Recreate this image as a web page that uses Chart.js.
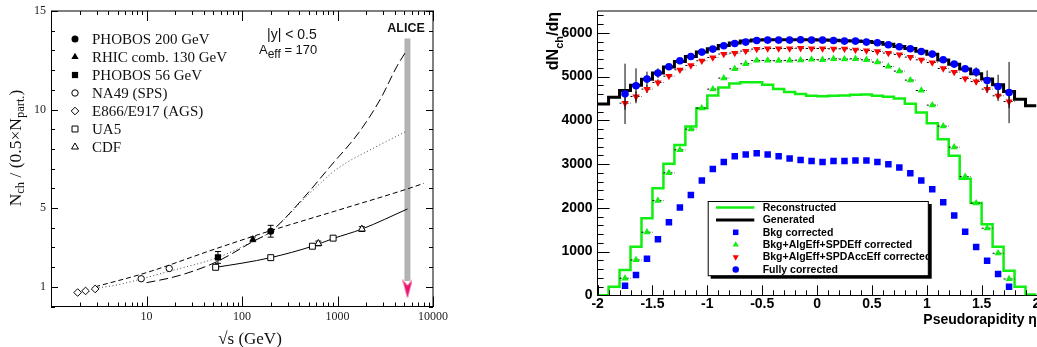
<!DOCTYPE html>
<html>
<head>
<meta charset="utf-8">
<script src="https://cdn.jsdelivr.net/npm/chart.js@4.4.1/dist/chart.umd.min.js"></script>
<style>
html, body { margin: 0; padding: 0; background: #fff; overflow: hidden; }
#wrap { position: relative; width: 1037px; height: 347px; overflow: hidden; }
#left { position: absolute; left: 0; top: 0; }
#right { position: absolute; left: 540px; top: 0; }
</style>
</head>
<body>
<div id="wrap">
  <canvas id="left" width="480" height="347"></canvas>
  <canvas id="right" width="510" height="347"></canvas>
</div>
<script>
// ---- left panel: Nch / (0.5 Npart) vs sqrt(s) ----
const sqrtsPhobos200 = [200];            const nchPhobos200 = [3.82];  const errPhobos200 = [0.3];
const sqrtsRhic130 = [130];              const nchRhic130 = [3.41];    const errRhic130 = [0.12];
const sqrtsPhobos56 = [56];              const nchPhobos56 = [2.49];   const errPhobos56 = [0.3];
const sqrtsNA49 = [8.8, 17.3];           const nchNA49 = [1.41, 1.93];
const sqrtsAGS = [1.9, 2.3, 2.9];        const nchAGS = [0.71, 0.79, 0.89];
const sqrtsUA5 = [53, 200, 546, 900];    const nchUA5 = [1.99, 2.48, 3.06, 3.47];
const sqrtsCDF = [630, 1800];            const nchCDF = [3.2, 3.93];   const errCDF = [0.12, 0.12];

const fitSolidX = [53, 100, 200, 546, 900, 1800, 5400];
const fitSolidY = [1.99, 2.2, 2.48, 3.06, 3.45, 3.93, 4.95];
const fitLongX = [10, 18, 31, 56, 130, 200, 426, 843, 1666, 2807, 4200, 5300];
const fitLongY = [1.21, 1.46, 1.8, 2.3, 3.3, 3.8, 5.43, 7.12, 8.82, 10.52, 12.2, 13.0];
const fitDotX = [2.9, 5, 10, 17, 53, 130, 200, 500, 1000, 2500, 5300];
const fitDotY = [0.93, 1.1, 1.47, 1.78, 2.45, 3.3, 3.8, 5.7, 7.0, 8.09, 8.9];
const fitDashX = [2.9, 10, 53, 200, 1000, 5400, 8000];
const fitDashY = [1.0, 1.72, 2.93, 3.85, 4.88, 5.97, 6.25];

const aliceX = [5400, 5400];  const aliceY = [13.6, 1.3];
const arrowX = [5400];        const arrowY = [0.89];

const leftXLabels = [10, 100, 1000, 10000];
const leftYLabels = [1, 5, 10, 15];

// ---- right panel: dNch/deta vs pseudorapidity ----
const etaCenters = [-1.95, -1.85, -1.75, -1.65, -1.55, -1.45, -1.35, -1.25, -1.15, -1.05,
  -0.95, -0.85, -0.75, -0.65, -0.55, -0.45, -0.35, -0.25, -0.15, -0.05,
  0.05, 0.15, 0.25, 0.35, 0.45, 0.55, 0.65, 0.75, 0.85, 0.95,
  1.05, 1.15, 1.25, 1.35, 1.45, 1.55, 1.65, 1.75, 1.85, 1.95];
const binHalf = 0.05;
const generatedHist = [4375, 4529, 4680, 4803, 4940, 5080, 5217, 5345, 5460, 5560,
  5636, 5712, 5766, 5812, 5835, 5842, 5842, 5842, 5845, 5842,
  5838, 5830, 5820, 5815, 5800, 5780, 5740, 5690, 5640, 5580,
  5510, 5380, 5280, 5175, 5064, 4943, 4812, 4659, 4485, 4332];
const reconstructedHist = [0, 196, 579, 1112, 1762, 2448, 3005, 3439, 3858, 4279,
  4568, 4750, 4845, 4870, 4870, 4812, 4714, 4650, 4600, 4565,
  4550, 4560, 4570, 4585, 4590, 4560, 4540, 4500, 4378, 4179,
  3936, 3570, 3190, 2664, 2108, 1624, 1112, 563, 196, 20];

const etaPoints = etaCenters.slice(2, 38);
const bkgCorrected = [220, 465, 838, 1281, 1670, 2005, 2295, 2623, 2890, 3050,
  3181, 3217, 3249, 3217, 3181, 3126, 3096, 3073, 3050, 3073,
  3073, 3080, 3080, 3050, 2998, 2920, 2792, 2623, 2426, 2128,
  1822, 1455, 1105, 792, 487, 197];
const spdEffCorrected = [389, 808, 1442, 2165, 2799, 3325, 3799, 4279, 4714, 4966,
  5178, 5293, 5369, 5369, 5362, 5369, 5377, 5392, 5384, 5407,
  5400, 5407, 5384, 5331, 5231, 5126, 4920, 4682, 4348, 3867,
  3387, 2714, 2105, 1533, 961, 373];
const spdAccCorrected = [4393, 4545, 4714, 4865, 5011, 5156, 5255, 5362, 5437, 5515,
  5538, 5583, 5629, 5643, 5643, 5643, 5650, 5643, 5643, 5636,
  5636, 5613, 5597, 5575, 5538, 5506, 5446, 5384, 5323, 5186,
  5103, 4957, 4888, 4714, 4561, 4430];
const spdAccErr = [150, 120, 90, 70, 50, 40, 30, 0, 0, 0, 0, 0, 0, 0, 0, 0, 0, 0,
  0, 0, 0, 0, 0, 0, 0, 0, 0, 0, 0, 30, 40, 50, 70, 90, 120, 150];
const fullyCorrected = [4606, 4790, 4943, 5080, 5224, 5362, 5460, 5560, 5629, 5705,
  5757, 5789, 5826, 5835, 5835, 5835, 5842, 5835, 5835, 5826,
  5812, 5812, 5789, 5773, 5728, 5682, 5636, 5575, 5515, 5384,
  5286, 5178, 5103, 4911, 4773, 4636];
const fullyErr = [690, 400, 170, 110, 60, 40, 30, 0, 0, 0, 0, 0, 0, 0, 0, 0, 0, 0,
  0, 0, 0, 0, 0, 0, 0, 0, 0, 0, 0, 30, 40, 60, 110, 230, 270, 700];

const rightXLabels = [-2, -1.5, -1, -0.5, 0, 0.5, 1, 1.5, 2];
const rightYLabels = [0, 1000, 2000, 3000, 4000, 5000, 6000];

// ---- helpers ----
function pts(xs, ys) { return xs.map((x, i) => ({ x: x, y: ys[i] })); }

function stepData(vals) {
  const d = [{ x: etaCenters[0] - binHalf, y: vals[0] }];
  etaCenters.forEach((c, i) => d.push({ x: c, y: vals[i] }));
  d.push({ x: etaCenters[etaCenters.length - 1] + binHalf, y: vals[vals.length - 1] });
  return d;
}

function makeArrow() {
  const c = document.createElement('canvas');
  c.width = 10; c.height = 19;
  const g = c.getContext('2d');
  g.fillStyle = '#e8146e';
  g.beginPath(); g.moveTo(0, 0); g.lineTo(5, 6); g.lineTo(10, 0); g.lineTo(5, 19); g.closePath(); g.fill();
  return c;
}

function marker(ctx, d, x, y, scale) {
  ctx.save();
  ctx.fillStyle = d.pointBackgroundColor;
  ctx.strokeStyle = d.pointBorderColor;
  ctx.lineWidth = d.pointBorderWidth || 0;
  const o = { pointStyle: d.pointStyle, rotation: d.pointRotation || 0, radius: d.pointRadius * (scale || 1), borderWidth: d.pointBorderWidth || 0 };
  if (Chart.helpers && Chart.helpers.drawPoint) {
    Chart.helpers.drawPoint(ctx, o, x, y);
  } else {
    ctx.beginPath(); ctx.arc(x, y, o.radius, 0, Math.PI * 2); ctx.fill();
  }
  ctx.restore();
}

// draws a run of text pieces [text, font, dy] one after another
function richText(ctx, parts, x, y, align) {
  let w = 0;
  parts.forEach(p => { ctx.font = p[1]; p.w = ctx.measureText(p[0]).width; w += p.w; });
  let cx = align === 'center' ? x - w / 2 : align === 'right' ? x - w : x;
  ctx.textAlign = 'left';
  parts.forEach(p => { ctx.font = p[1]; ctx.fillText(p[0], cx, y + (p[2] || 0)); cx += p.w; });
}

// inward tick marks and the frame sides the library does not draw
function innerTicks(id, cfg) {
  return {
    id: id,
    afterDatasetsDraw(chart) {
      const ctx = chart.ctx, a = chart.chartArea, xs = chart.scales.x, ys = chart.scales.y;
      ctx.save();
      ctx.strokeStyle = '#000';
      ctx.lineWidth = 1;
      ctx.beginPath();
      cfg.xTicks.forEach(t => {
        const px = Math.round(xs.getPixelForValue(t.v)) + 0.5;
        if (px < a.left - 1 || px > a.right + 1) return;
        if (cfg.xSides.includes('bottom')) { ctx.moveTo(px, a.bottom); ctx.lineTo(px, a.bottom - t.len); }
        if (cfg.xSides.includes('top')) { ctx.moveTo(px, a.top); ctx.lineTo(px, a.top + t.len); }
      });
      cfg.yTicks.forEach(t => {
        const py = Math.round(ys.getPixelForValue(t.v)) + 0.5;
        if (py < a.top - 1 || py > a.bottom + 1) return;
        if (cfg.ySides.includes('left')) { ctx.moveTo(a.left, py); ctx.lineTo(a.left + t.len, py); }
        if (cfg.ySides.includes('right')) { ctx.moveTo(a.right, py); ctx.lineTo(a.right - t.len, py); }
      });
      if (cfg.frame.includes('top')) { ctx.moveTo(a.left, a.top); ctx.lineTo(a.right + 1, a.top); }
      if (cfg.frame.includes('right')) { ctx.moveTo(a.right, a.top); ctx.lineTo(a.right, a.bottom); }
      ctx.stroke();
      ctx.restore();
    }
  };
}

const errorBars = {
  id: 'errorBars',
  beforeDatasetDraw(chart, args) {
    const ds = chart.data.datasets[args.index];
    if (!ds.yErr && !ds.xErr) return;
    const xs = chart.scales.x, ys = chart.scales.y, ctx = chart.ctx;
    ctx.save();
    ctx.strokeStyle = '#000';
    ctx.lineWidth = 1;
    ds.data.forEach((p, i) => {
      const px = xs.getPixelForValue(p.x), py = ys.getPixelForValue(p.y);
      const ey = ds.yErr ? ds.yErr[i] : 0;
      if (ey) {
        const t = ys.getPixelForValue(p.y + ey), b = ys.getPixelForValue(p.y - ey);
        ctx.setLineDash([]);
        ctx.beginPath();
        ctx.moveTo(px, t); ctx.lineTo(px, b);
        if (ds.errCap) {
          ctx.moveTo(px - ds.errCap, t); ctx.lineTo(px + ds.errCap, t);
          ctx.moveTo(px - ds.errCap, b); ctx.lineTo(px + ds.errCap, b);
        }
        ctx.stroke();
      }
      if (ds.xErr) {
        const l = xs.getPixelForValue(p.x - ds.xErr), r = xs.getPixelForValue(p.x + ds.xErr);
        ctx.setLineDash([2, 1.5]);
        ctx.beginPath(); ctx.moveTo(l, py); ctx.lineTo(r, py); ctx.stroke();
      }
    });
    ctx.restore();
  }
};

// ---- left chart ----
const serif = '"Liberation Serif", "DejaVu Serif", serif';
const sans = '"Liberation Sans", Arial, sans-serif';

const logTicks = [];
for (let k = 0; k < 4; k++) for (let m = 1; m < 10; m++) logTicks.push({ v: m * Math.pow(10, k), len: m === 1 ? 10 : 4 });
logTicks.push({ v: 10000, len: 10 });
const leftYTicks = [];
for (let v = 0; v <= 15; v++) leftYTicks.push({ v: v, len: leftYLabels.includes(v) ? 7 : 4 });

const leftDecor = {
  id: 'leftDecor',
  afterDraw(chart) {
    const ctx = chart.ctx;
    ctx.save();
    ctx.fillStyle = '#111';
    ctx.textBaseline = 'middle';
    // legend
    chart.data.datasets.filter(d => d.inLegend).forEach((d, i) => {
      const y = 39 + i * 18;
      marker(ctx, d, 75, y);
      ctx.fillStyle = '#111';
      ctx.font = '15px ' + serif;
      ctx.textAlign = 'left';
      ctx.fillText(d.label, 92, y + 1);
    });
    // annotations
    ctx.font = '14px ' + sans;
    ctx.fillText('|y| < 0.5', 267, 35);
    richText(ctx, [['A', '13px ' + sans, 0], ['eff', '12px ' + sans, 5], [' = 170', '13px ' + sans, 0]], 259, 50, 'left');
    ctx.font = 'bold 12.5px ' + sans;
    ctx.textAlign = 'center';
    ctx.fillText('ALICE', 406, 29);
    // axis titles
    ctx.textBaseline = 'alphabetic';
    richText(ctx, [['\u221As (GeV)', '17px ' + serif, 0]], 250, 344, 'center');
    ctx.translate(21, 148);
    ctx.rotate(-Math.PI / 2);
    richText(ctx, [['N', '17.5px ' + serif, 0], ['ch', '12.5px ' + serif, 3],
      [' / (0.5\u00D7N', '17.5px ' + serif, 0], ['part.', '12.5px ' + serif, 3], [')', '17.5px ' + serif, 0]], 0, 0, 'center');
    ctx.restore();
  }
};

new Chart(document.getElementById('left'), {
  type: 'scatter',
  data: {
    datasets: [
      { label: 'PHOBOS 200 GeV', data: pts(sqrtsPhobos200, nchPhobos200), yErr: errPhobos200, errCap: 3,
        pointStyle: 'circle', pointRadius: 3.5, pointBackgroundColor: '#000', pointBorderColor: '#000', pointBorderWidth: 0, order: 1, inLegend: true },
      { label: 'RHIC comb. 130 GeV', data: pts(sqrtsRhic130, nchRhic130), yErr: errRhic130, errCap: 3,
        pointStyle: 'triangle', pointRadius: 4.2, pointBackgroundColor: '#000', pointBorderColor: '#000', pointBorderWidth: 0, order: 1, inLegend: true },
      { label: 'PHOBOS 56 GeV', data: pts(sqrtsPhobos56, nchPhobos56), yErr: errPhobos56, errCap: 3,
        pointStyle: 'rect', pointRadius: 4.4, pointBackgroundColor: '#000', pointBorderColor: '#000', pointBorderWidth: 0, order: 1, inLegend: true },
      { label: 'NA49 (SPS)', data: pts(sqrtsNA49, nchNA49),
        pointStyle: 'circle', pointRadius: 3.2, pointBackgroundColor: '#fff', pointBorderColor: '#000', pointBorderWidth: 1, order: 1, inLegend: true },
      { label: 'E866/E917 (AGS)', data: pts(sqrtsAGS, nchAGS),
        pointStyle: 'rectRot', pointRadius: 3.8, pointBackgroundColor: '#fff', pointBorderColor: '#000', pointBorderWidth: 1, order: 1, inLegend: true },
      { label: 'UA5', data: pts(sqrtsUA5, nchUA5),
        pointStyle: 'rect', pointRadius: 4.2, pointBackgroundColor: '#fff', pointBorderColor: '#000', pointBorderWidth: 1, order: 1, inLegend: true },
      { label: 'CDF', data: pts(sqrtsCDF, nchCDF), yErr: errCDF, errCap: 3,
        pointStyle: 'triangle', pointRadius: 4, pointBackgroundColor: '#fff', pointBorderColor: '#000', pointBorderWidth: 1, order: 1, inLegend: true },
      { label: 'fit solid', data: pts(fitSolidX, fitSolidY), showLine: true, pointRadius: 0,
        borderColor: '#000', borderWidth: 1, cubicInterpolationMode: 'monotone', order: 5 },
      { label: 'fit long dash', data: pts(fitLongX, fitLongY), showLine: true, pointRadius: 0,
        borderColor: '#000', borderWidth: 1, borderDash: [9, 4], cubicInterpolationMode: 'monotone', order: 5 },
      { label: 'fit dotted', data: pts(fitDotX, fitDotY), showLine: true, pointRadius: 0,
        borderColor: '#444', borderWidth: 1, borderDash: [1, 2.5], cubicInterpolationMode: 'monotone', order: 5 },
      { label: 'fit dashed', data: pts(fitDashX, fitDashY), showLine: true, pointRadius: 0,
        borderColor: '#000', borderWidth: 1, borderDash: [5, 3], cubicInterpolationMode: 'monotone', order: 5 },
      { label: 'ALICE band', data: pts(aliceX, aliceY), showLine: true, pointRadius: 0,
        borderColor: '#b3b3b3', borderWidth: 6, borderCapStyle: 'butt', order: 6 },
      { label: 'ALICE arrow', data: pts(arrowX, arrowY), pointStyle: makeArrow(), pointRadius: 10, order: 0 }
    ]
  },
  options: {
    responsive: false,
    animation: false,
    layout: { padding: { left: 0, right: 47, top: 11, bottom: 0 } },
    plugins: { legend: { display: false }, tooltip: { enabled: false } },
    scales: {
      x: {
        type: 'logarithmic', min: 1, max: 10000,
        afterBuildTicks: s => { s.ticks = leftXLabels.map(v => ({ value: v })); },
        afterFit: s => { s.height = 40.5; s.paddingLeft = 0; s.paddingRight = 0; },
        grid: { display: false, drawTicks: false },
        border: { color: '#000', width: 1 },
        ticks: { font: { family: serif, size: 12 }, color: '#222', padding: 3, autoSkip: false, maxRotation: 0, callback: v => String(v) }
      },
      y: {
        min: 0, max: 15,
        afterBuildTicks: s => { s.ticks = leftYLabels.map(v => ({ value: v })); },
        afterFit: s => { s.width = 51; s.paddingTop = 0; s.paddingBottom = 0; },
        grid: { display: false, drawTicks: false },
        border: { color: '#000', width: 1 },
        ticks: { font: { family: serif, size: 12 }, color: '#222', padding: 5, autoSkip: false, callback: v => String(v) }
      }
    }
  },
  plugins: [errorBars, innerTicks('leftTicks', { xTicks: logTicks, xSides: ['bottom', 'top'], yTicks: leftYTicks, ySides: ['left', 'right'], frame: ['top', 'right'] }), leftDecor]
});

// ---- right chart ----
const rightXTicks = [];
for (let i = 0; i <= 40; i++) rightXTicks.push({ v: -2 + i * 0.1, len: i % 5 === 0 ? 10 : 5 });
const rightYTicks = [];
for (let v = 0; v <= 6400; v += 200) rightYTicks.push({ v: v, len: v % 1000 === 0 ? 12 : 6 });

const rightDecor = {
  id: 'rightDecor',
  afterDraw(chart) {
    const ctx = chart.ctx;
    ctx.save();
    // legend box with shadow
    ctx.fillStyle = '#000';
    ctx.fillRect(170.7, 204, 221, 74.7);
    ctx.fillStyle = '#fff';
    ctx.fillRect(167.7, 201, 220.6, 74.7);
    ctx.strokeStyle = '#000';
    ctx.lineWidth = 1;
    ctx.strokeRect(168.2, 201.5, 220.1, 74.2);
    ctx.textBaseline = 'middle';
    chart.data.datasets.forEach((d, i) => {
      const y = 207.5 + i * 12.4;
      if (d.showLine) {
        ctx.strokeStyle = d.borderColor;
        ctx.lineWidth = d.borderWidth;
        ctx.beginPath(); ctx.moveTo(176, y); ctx.lineTo(214.3, y); ctx.stroke();
      } else {
        marker(ctx, d, 195.7, y, 0.85);
      }
      ctx.fillStyle = '#000';
      ctx.font = 'bold 10.5px ' + sans;
      ctx.textAlign = 'left';
      ctx.fillText(d.label, 222.7, y + 0.5);
    });
    // axis titles
    ctx.textBaseline = 'alphabetic';
    richText(ctx, [['Pseudorapidity \u03B7', 'bold 14px ' + sans, 0]], 383.3, 323.5, 'left');
    ctx.translate(18, 12);
    ctx.rotate(-Math.PI / 2);
    richText(ctx, [['dN', 'bold 16px ' + sans, 0], ['ch', 'bold 11px ' + sans, 5], ['/d\u03B7', 'bold 16px ' + sans, 0]], 0, 0, 'right');
    ctx.restore();
  }
};

new Chart(document.getElementById('right'), {
  type: 'scatter',
  data: {
    datasets: [
      { label: 'Reconstructed', data: stepData(reconstructedHist), showLine: true, stepped: 'middle', pointRadius: 0,
        borderColor: '#11ee11', borderWidth: 2.5, borderJoinStyle: 'miter', order: 5 },
      { label: 'Generated', data: stepData(generatedHist), showLine: true, stepped: 'middle', pointRadius: 0,
        borderColor: '#000', borderWidth: 3, borderJoinStyle: 'miter', order: 6 },
      { label: 'Bkg corrected', data: pts(etaPoints, bkgCorrected),
        pointStyle: 'rect', pointRadius: 4.6, pointBackgroundColor: '#0000ff', pointBorderColor: '#0000ff', pointBorderWidth: 0, order: 4 },
      { label: 'Bkg+AlgEff+SPDEff corrected', data: pts(etaPoints, spdEffCorrected), xErr: binHalf,
        pointStyle: 'triangle', pointRadius: 4.2, pointBackgroundColor: '#11ee11', pointBorderColor: '#11ee11', pointBorderWidth: 0, order: 3 },
      { label: 'Bkg+AlgEff+SPDAccEff corrected', data: pts(etaPoints, spdAccCorrected), xErr: binHalf, yErr: spdAccErr,
        pointStyle: 'triangle', pointRotation: 180, pointRadius: 4.2, pointBackgroundColor: '#ff0000', pointBorderColor: '#ff0000', pointBorderWidth: 0, order: 2 },
      { label: 'Fully corrected', data: pts(etaPoints, fullyCorrected), yErr: fullyErr,
        pointStyle: 'circle', pointRadius: 3.8, pointBackgroundColor: '#0000ff', pointBorderColor: '#0000ff', pointBorderWidth: 0, order: 1 }
    ]
  },
  options: {
    responsive: false,
    animation: false,
    layout: { padding: { left: 0, right: 13.5, top: 11, bottom: 0 } },
    plugins: { legend: { display: false }, tooltip: { enabled: false } },
    scales: {
      x: {
        type: 'linear', min: -2, max: 2,
        afterBuildTicks: s => { s.ticks = rightXLabels.map(v => ({ value: v })); },
        afterFit: s => { s.height = 51.7; s.paddingLeft = 0; s.paddingRight = 0; },
        grid: { display: false, drawTicks: false },
        border: { color: '#000', width: 1 },
        ticks: { font: { family: sans, size: 14, weight: 'bold' }, color: '#000', padding: 0, autoSkip: false, maxRotation: 0, callback: v => String(v) }
      },
      y: {
        min: 0, max: 6500,
        afterBuildTicks: s => { s.ticks = rightYLabels.map(v => ({ value: v })); },
        afterFit: s => { s.width = 57.6; s.paddingTop = 0; s.paddingBottom = 0; },
        grid: { display: false, drawTicks: false },
        border: { color: '#000', width: 1 },
        ticks: { font: { family: sans, size: 14, weight: 'bold' }, color: '#000', padding: 5, autoSkip: false, callback: v => String(v) }
      }
    }
  },
  plugins: [errorBars, innerTicks('rightTicks', { xTicks: rightXTicks, xSides: ['bottom'], yTicks: rightYTicks, ySides: ['left'], frame: ['top'] }), rightDecor]
});
</script>
</body>
</html>
